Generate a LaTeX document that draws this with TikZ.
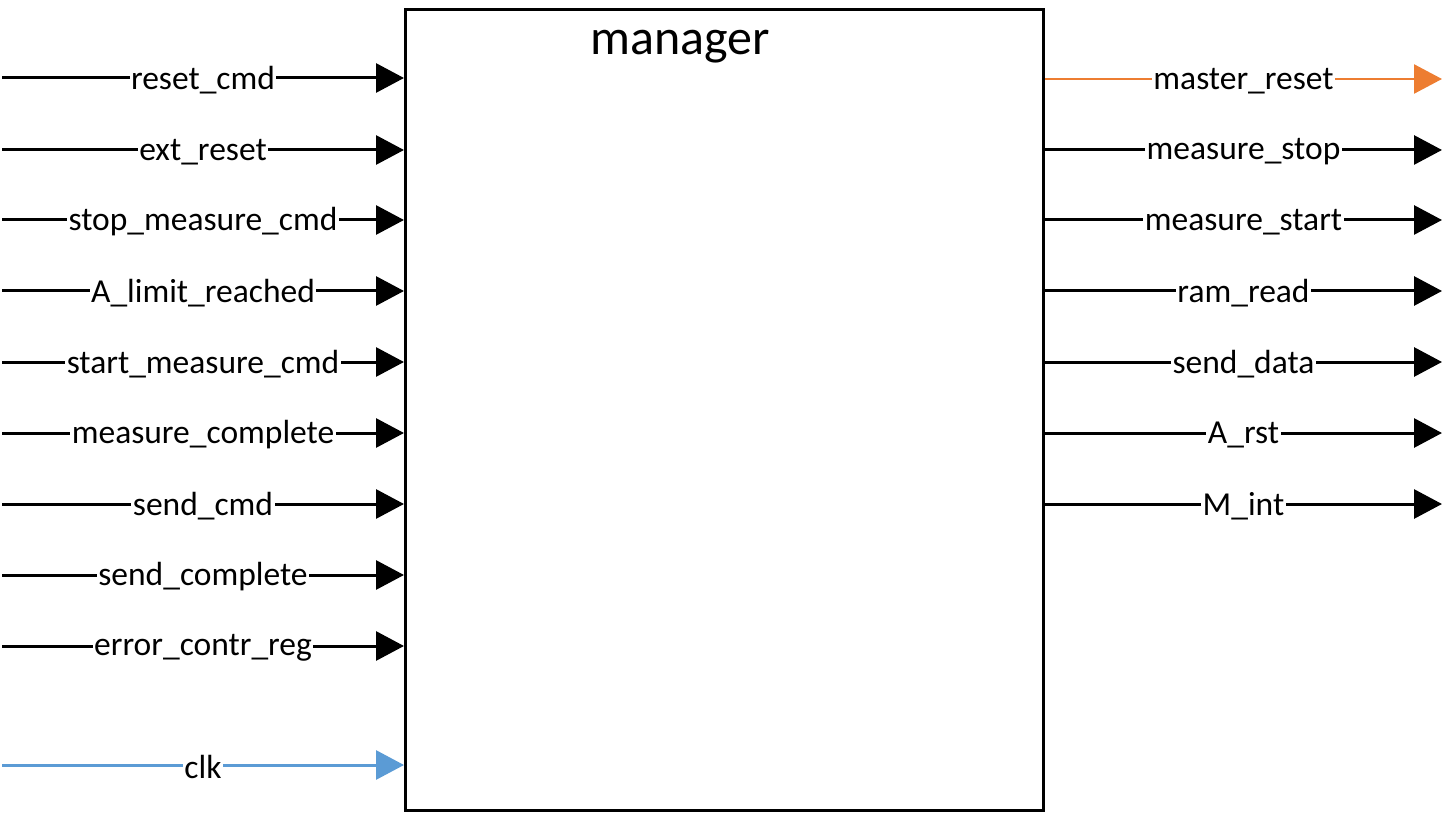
\documentclass[tikz,border=0pt]{standalone}
\usepackage{fontspec}
\setmainfont{Carlito}
\usetikzlibrary{arrows.meta}
\definecolor{sigorange}{HTML}{ED7D31}
\definecolor{sigblue}{HTML}{5B9BD5}
\begin{document}
\begin{tikzpicture}[x=1pt,y=-1pt,
  sig/.style={line width=3pt, -{Triangle[length=28pt,width=29pt]}},
  lbl/.style={fill=white, inner xsep=1.5pt, inner ysep=0pt, yshift=-2pt, text=black, font=\fontsize{33.5}{38}\selectfont},
  blockbox/.style={draw, line width=3pt, minimum width=638pt, minimum height=801pt, inner sep=0pt, anchor=north west}]
\useasboundingbox (0,0) rectangle (1444,813);
\node[blockbox] (mgr) at (404,8) {};
\node[font=\fontsize{50}{56}\selectfont] (title) at (680,47) {manager};
\foreach \y/\t [count=\i] in {78/reset\_cmd, 150/ext\_reset, 220/stop\_measure\_cmd, 291/A\_limit\_reached, 362/start\_measure\_cmd, 433/measure\_complete, 504/send\_cmd, 575/send\_complete, 646/error\_contr\_reg} {
  \coordinate (in\i) at (2,\y);
  \draw[sig] (in\i) -- (in\i -| mgr.west) node[lbl, midway] (inl\i) {\t};
}
\coordinate (inclk) at (2,765);
\draw[sig, sigblue] (inclk) -- (inclk -| mgr.west) node[lbl, midway] (inlclk) {clk};
\foreach \y/\t [count=\i] in {150/measure\_stop, 220/measure\_start, 291/ram\_read, 362/send\_data, 433/A\_rst, 504/M\_int} {
  \coordinate (out\i) at (1442,\y);
  \draw[sig] (out\i -| mgr.east) -- (out\i) node[lbl, midway] (outl\i) {\t};
}
\coordinate (outmr) at (1442,79);
\draw[sig, sigorange, line width=2.5pt] (outmr -| mgr.east) -- (outmr) node[lbl, midway] (outlmr) {master\_reset};
\end{tikzpicture}
\end{document}
